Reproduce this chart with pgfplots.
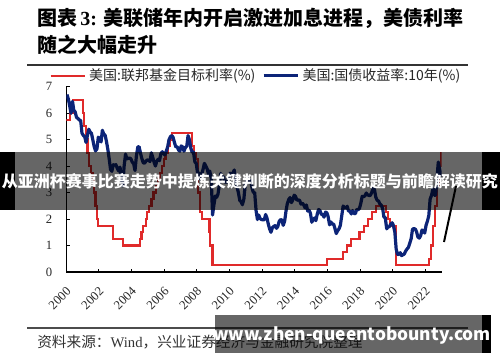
\documentclass[border=0pt]{standalone}
\usepackage{fontspec}
\setmainfont{Liberation Serif}
\newfontfamily\cjk{Noto Sans CJK SC}
\usepackage{pgfplots}
\pgfplotsset{compat=1.18}
\definecolor{fedred}{RGB}{224,42,42}
\definecolor{ustblue}{RGB}{12,36,120}
\begin{document}
\begin{tikzpicture}
\path[use as bounding box] (0,0) rectangle (375pt,271.5pt);
\begin{axis}[
  at={(49.73pt,67.5pt)}, anchor=south west,
  scale only axis, width=281.55pt, height=139.1pt,
  xmin=2000, xmax=2023, ymin=0, ymax=7,
  axis lines=left, axis line style={-, line width=1.1pt, black},
  xtick={2000,2002,...,2022}, ytick={0,1,...,7},
  tick align=inside, major tick length=2.6pt,
  tick style={black, line width=0.75pt},
  /pgf/number format/assume math mode=true,
  /pgf/number format/1000 sep={},
  tick label style={font=\fontsize{9.5}{11}\selectfont, text=black!85},
  yticklabel style={xshift=-7pt},
  xticklabel style={xshift=-0.5pt, yshift=-10.5pt, inner sep=0pt, rotate=45, anchor=north east},
  legend columns=2,
  legend style={at={(-0.045,1.058)}, anchor=west, draw=none, fill=none, inner sep=0pt,
    font=\cjk\fontsize{10.5}{12}\selectfont, text=black!85,
    /tikz/every even column/.append style={column sep=3pt}},
  legend cell align=left,
  legend image code/.code={\draw[#1] (0pt,0pt) -- (26pt,0pt);},
]
\addplot[const plot, color=fedred, line width=1.6pt] table {
x y
2000.00 5.75
2000.22 6.00
2000.40 6.50
2001.01 6.00
2001.08 5.50
2001.22 5.00
2001.30 4.50
2001.38 4.00
2001.49 3.75
2001.64 3.50
2001.72 3.00
2001.79 2.50
2001.86 2.00
2001.95 1.75
2002.85 1.25
2003.48 1.00
2004.50 1.25
2004.61 1.50
2004.72 1.75
2004.86 2.00
2004.96 2.25
2005.09 2.50
2005.22 2.75
2005.34 3.00
2005.50 3.25
2005.61 3.50
2005.72 3.75
2005.84 4.00
2005.96 4.25
2006.08 4.50
2006.22 4.75
2006.36 5.00
2006.49 5.25
2007.72 4.75
2007.83 4.50
2007.95 4.25
2008.06 3.50
2008.08 3.00
2008.21 2.25
2008.33 2.00
2008.77 1.50
2008.83 1.00
2008.96 0.25
2015.96 0.50
2016.96 0.75
2017.21 1.00
2017.46 1.25
2017.96 1.50
2018.22 1.75
2018.46 2.00
2018.73 2.25
2018.97 2.50
2019.58 2.25
2019.71 2.00
2019.83 1.75
2020.17 1.25
2020.21 0.25
2022.21 0.50
2022.34 1.00
2022.46 1.75
2022.57 2.50
2022.72 3.25
2022.84 4.00
2022.95 4.50
2022.97 4.50
};
\addlegendentry{美国:联邦基金目标利率(\%)}
\addplot[color=ustblue, line width=2.4pt, line join=round] table {
x y
2000.04 6.70
2000.13 6.52
2000.21 6.26
2000.29 5.99
2000.38 6.44
2000.46 6.10
2000.54 6.05
2000.63 5.83
2000.71 5.80
2000.79 5.74
2000.88 5.72
2000.96 5.24
2001.04 5.16
2001.13 5.10
2001.21 4.89
2001.29 5.14
2001.38 5.39
2001.46 5.28
2001.54 5.24
2001.63 4.97
2001.71 4.73
2001.79 4.57
2001.88 4.65
2001.96 5.09
2002.04 5.04
2002.13 4.91
2002.21 5.35
2002.29 5.21
2002.38 5.16
2002.46 4.93
2002.54 4.65
2002.63 4.26
2002.71 3.87
2002.79 3.80
2002.88 4.05
2002.96 4.03
2003.04 4.05
2003.13 3.90
2003.21 3.81
2003.29 3.96
2003.38 3.57
2003.46 3.25
2003.54 3.98
2003.63 4.45
2003.71 4.27
2003.79 4.29
2003.88 4.30
2003.96 4.27
2004.04 4.15
2004.13 4.08
2004.21 3.83
2004.29 4.35
2004.38 4.72
2004.46 4.73
2004.54 4.50
2004.63 4.28
2004.71 4.13
2004.79 4.10
2004.88 4.19
2004.96 4.23
2005.04 4.22
2005.13 4.17
2005.21 4.50
2005.29 4.34
2005.38 4.14
2005.46 4.00
2005.54 4.18
2005.63 4.26
2005.71 4.20
2005.79 4.46
2005.88 4.54
2005.96 4.47
2006.04 4.42
2006.13 4.57
2006.21 4.72
2006.29 4.99
2006.38 5.11
2006.46 5.15
2006.54 5.09
2006.63 4.88
2006.71 4.72
2006.79 4.73
2006.88 4.60
2006.96 4.56
2007.04 4.76
2007.13 4.72
2007.21 4.56
2007.29 4.69
2007.38 4.75
2007.46 5.15
2007.54 5.00
2007.63 4.67
2007.71 4.52
2007.79 4.53
2007.88 4.15
2007.96 4.10
2008.04 3.74
2008.13 3.74
2008.21 3.51
2008.29 3.68
2008.38 3.88
2008.46 4.10
2008.54 4.01
2008.63 3.89
2008.71 3.69
2008.79 3.81
2008.88 3.53
2008.96 2.15
2009.04 2.52
2009.13 2.87
2009.21 2.82
2009.29 2.93
2009.38 3.29
2009.46 3.72
2009.54 3.56
2009.63 3.59
2009.71 3.40
2009.79 3.39
2009.88 3.40
2009.96 3.59
2010.04 3.73
2010.13 3.69
2010.21 3.73
2010.29 3.85
2010.38 3.42
2010.46 3.20
2010.54 3.01
2010.63 2.70
2010.71 2.65
2010.79 2.54
2010.88 2.76
2010.96 3.29
2011.04 3.39
2011.13 3.58
2011.21 3.41
2011.29 3.46
2011.38 3.17
2011.46 3.00
2011.54 3.00
2011.63 2.30
2011.71 1.98
2011.79 2.15
2011.88 2.01
2011.96 1.98
2012.04 1.97
2012.13 1.97
2012.21 2.17
2012.29 2.05
2012.38 1.80
2012.46 1.62
2012.54 1.50
2012.63 1.68
2012.71 1.72
2012.79 1.75
2012.88 1.65
2012.96 1.72
2013.04 1.91
2013.13 1.98
2013.21 1.96
2013.29 1.76
2013.38 1.93
2013.46 2.30
2013.54 2.58
2013.63 2.74
2013.71 2.81
2013.79 2.62
2013.88 2.72
2013.96 2.90
2014.04 2.86
2014.13 2.71
2014.21 2.72
2014.29 2.71
2014.38 2.56
2014.46 2.60
2014.54 2.54
2014.63 2.42
2014.71 2.53
2014.79 2.30
2014.88 2.33
2014.96 2.21
2015.04 1.88
2015.13 1.98
2015.21 2.04
2015.29 1.94
2015.38 2.20
2015.46 2.36
2015.54 2.32
2015.63 2.17
2015.71 2.17
2015.79 2.07
2015.88 2.26
2015.96 2.24
2016.04 2.09
2016.13 1.78
2016.21 1.89
2016.29 1.81
2016.38 1.81
2016.46 1.64
2016.54 1.45
2016.63 1.56
2016.71 1.63
2016.79 1.76
2016.88 2.14
2016.96 2.49
2017.04 2.43
2017.13 2.42
2017.21 2.48
2017.29 2.30
2017.38 2.30
2017.46 2.19
2017.54 2.32
2017.63 2.21
2017.71 2.20
2017.79 2.36
2017.88 2.35
2017.96 2.40
2018.04 2.58
2018.13 2.86
2018.21 2.84
2018.29 2.87
2018.38 2.98
2018.46 2.91
2018.54 2.89
2018.63 2.89
2018.71 3.00
2018.79 3.15
2018.88 3.12
2018.96 2.83
2019.04 2.71
2019.13 2.68
2019.21 2.57
2019.29 2.53
2019.38 2.40
2019.46 2.07
2019.54 2.06
2019.63 1.63
2019.71 1.70
2019.79 1.71
2019.88 1.81
2019.96 1.86
2020.04 1.76
2020.13 1.50
2020.21 0.87
2020.29 0.66
2020.38 0.67
2020.46 0.73
2020.54 0.62
2020.63 0.65
2020.71 0.68
2020.79 0.79
2020.88 0.87
2020.96 0.93
2021.04 1.08
2021.13 1.26
2021.21 1.61
2021.29 1.64
2021.38 1.62
2021.46 1.52
2021.54 1.32
2021.63 1.28
2021.71 1.37
2021.79 1.58
2021.88 1.56
2021.96 1.47
2022.04 1.76
2022.13 1.93
2022.21 2.13
2022.29 2.75
2022.38 2.90
2022.46 3.14
2022.54 2.90
2022.63 2.90
2022.71 3.52
2022.79 4.15
2022.88 3.85
2022.96 3.60
};
\addlegendentry{美国:国债收益率:10年(\%)}
\end{axis}
\begin{scope}[x=0.75pt,y=-0.75pt,yshift=271.5pt]
  % title
  \node[anchor=west, inner sep=0pt] at (37,18) {\cjk\bfseries\fontsize{15}{18}\selectfont 图表\hspace{0.15em}\textbf{\fontspec{Liberation Serif}3:}\hspace{0.35em}美联储年内开启激进加息进程，美债利率};
  \node[anchor=west, inner sep=0pt] at (37,45) {\cjk\bfseries\fontsize{15}{18}\selectfont 随之大幅走升};
  \draw[line width=1.1pt, black!80] (27,65) -- (468,65);
  % source
  \draw[line width=0.8pt, black!70] (27,328) -- (468,328);
  \node[anchor=west, inner sep=0pt, text=black!80] at (37,342) {\cjk\fontsize{11}{13}\selectfont 资料来源：{\fontspec{Liberation Serif}Wind}，兴业证券经济与金融研究院整理};
  % overlay banner 1
  \fill[black, opacity=0.6] (15,152) rectangle (482,210);
  \fill[black] (0,152) rectangle (15,210);
  \fill[black] (482,152) rectangle (500,210);
  \node[text=white, inner sep=0pt] at (250,181) {\cjk\bfseries\fontsize{12}{14}\selectfont 从亚洲杯赛事比赛走势中提炼关键判断的深度分析标题与前瞻解读研究};
  % black stroke
  \draw[line width=1.5pt, black] (456,186) -- (444,242);
  % overlay banner 2
  \fill[black, opacity=0.6] (215,315) rectangle (482,353);
  \fill[black] (482,315) rectangle (491,353);
  \node[text=white, inner sep=0pt] at (352,335) {\cjk\bfseries\fontsize{13}{15}\selectfont www.zhen-queentobounty.com};
\end{scope}
\end{tikzpicture}
\end{document}
